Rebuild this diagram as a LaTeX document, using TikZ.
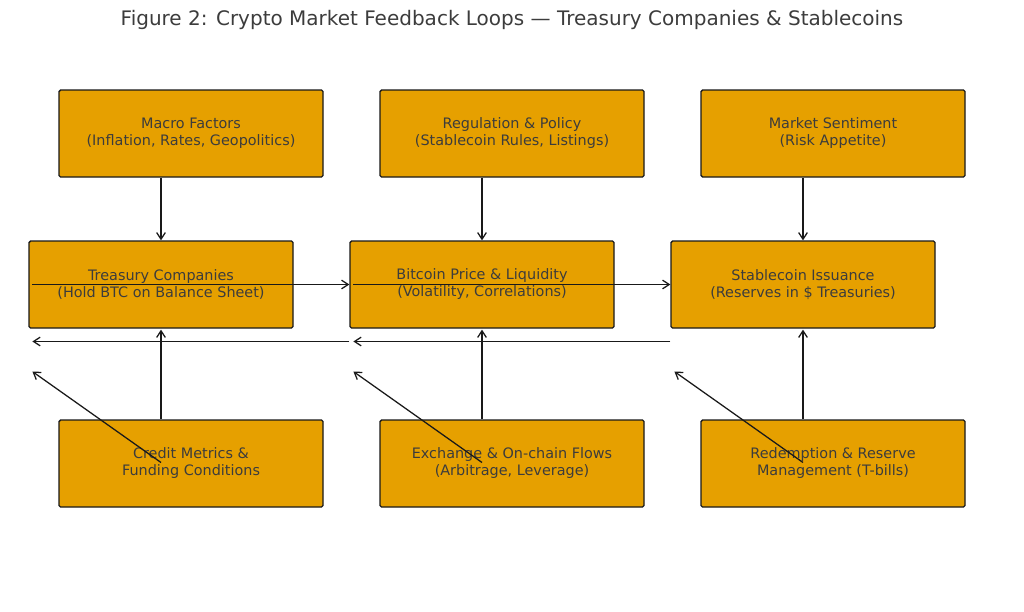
\documentclass[tikz,border=0pt]{standalone}
\usepackage{fontspec}
\setmainfont{DejaVu Sans}
\usetikzlibrary{arrows.meta,calc}
\definecolor{boxfill}{HTML}{E6A000}
\definecolor{txt}{HTML}{3C3C3C}
\tikzset{
  box/.style={draw=black!90, fill=boxfill, line width=0.95pt, rounded corners=1.2pt,
    minimum width=198pt, minimum height=65.25pt, inner sep=0pt, align=center,
    text=txt, font=\fontsize{10.8pt}{12.75pt}\selectfont},
  arr/.style={draw=black!90, line width=0.95pt, -{Straight Barb[length=5pt,width=6.5pt]}},
}
\begin{document}
\begin{tikzpicture}[x=0.75pt,y=-0.75pt]
\useasboundingbox (0,0) rectangle (1024,611);
\node[text=txt, font=\fontsize{15pt}{17pt}\selectfont] (title) at (512,20) {Figure 2: Crypto Market Feedback Loops — Treasury Companies \& Stablecoins};
% top row
\node[box] (mf) at (191,133.5) {Macro Factors\\(Inflation, Rates, Geopolitics)};
\node[box] (rp) at (512,133.5) {Regulation \& Policy\\(Stablecoin Rules, Listings)};
\node[box] (ms) at (833,133.5) {Market Sentiment\\(Risk Appetite)};
% middle row
\node[box] (tc) at (161,284.5) {Treasury Companies\\(Hold BTC on Balance Sheet)};
\node[box] (bp) at (482,284.5) {Bitcoin Price \& Liquidity\\(Volatility, Correlations)};
\node[box] (si) at (803,284.5) {Stablecoin Issuance\\(Reserves in \$ Treasuries)};
% bottom row
\node[box] (cm) at (191,463.5) {Credit Metrics \&\\Funding Conditions};
\node[box] (ex) at (512,463.5) {Exchange \& On-chain Flows\\(Arbitrage, Leverage)};
\node[box] (rr) at (833,463.5) {Redemption \& Reserve\\Management (T-bills)};
% coordinates for free ends
\coordinate (tcL) at ($(tc.west)+(4,0)$);
\coordinate (bpL) at ($(bp.west)+(4,0)$);
\coordinate (siL) at ($(si.west)+(4,0)$);
% top -> middle
\draw[arr] (mf.south -| tc.north) -- (tc.north);
\draw[arr] (rp.south -| bp.north) -- (bp.north);
\draw[arr] (ms.south -| si.north) -- (si.north);
% horizontal forward
\draw[arr] (tcL) -- (bp.west);
\draw[arr] (bpL) -- (si.west);
% horizontal back
\draw[arr] ($(bp.west)+(0,57)$) -- ($(tcL)+(0,57)$);
\draw[arr] ($(si.west)+(0,57)$) -- ($(bpL)+(0,57)$);
% bottom -> middle
\draw[arr] (cm.north -| tc.south) -- ($(tc.south)+(0,1)$);
\draw[arr] (ex.north -| bp.south) -- ($(bp.south)+(0,1)$);
\draw[arr] (rr.north -| si.south) -- ($(si.south)+(0,1)$);
% diagonals
\draw[arr] ($(cm.center -| tc.center)+(0,-1)$) -- ($(tcL)+(0,87)$);
\draw[arr] ($(ex.center -| bp.center)+(0,-1)$) -- ($(bpL)+(0,87)$);
\draw[arr] ($(rr.center -| si.center)+(0,-1)$) -- ($(siL)+(0,87)$);
\end{tikzpicture}
\end{document}
